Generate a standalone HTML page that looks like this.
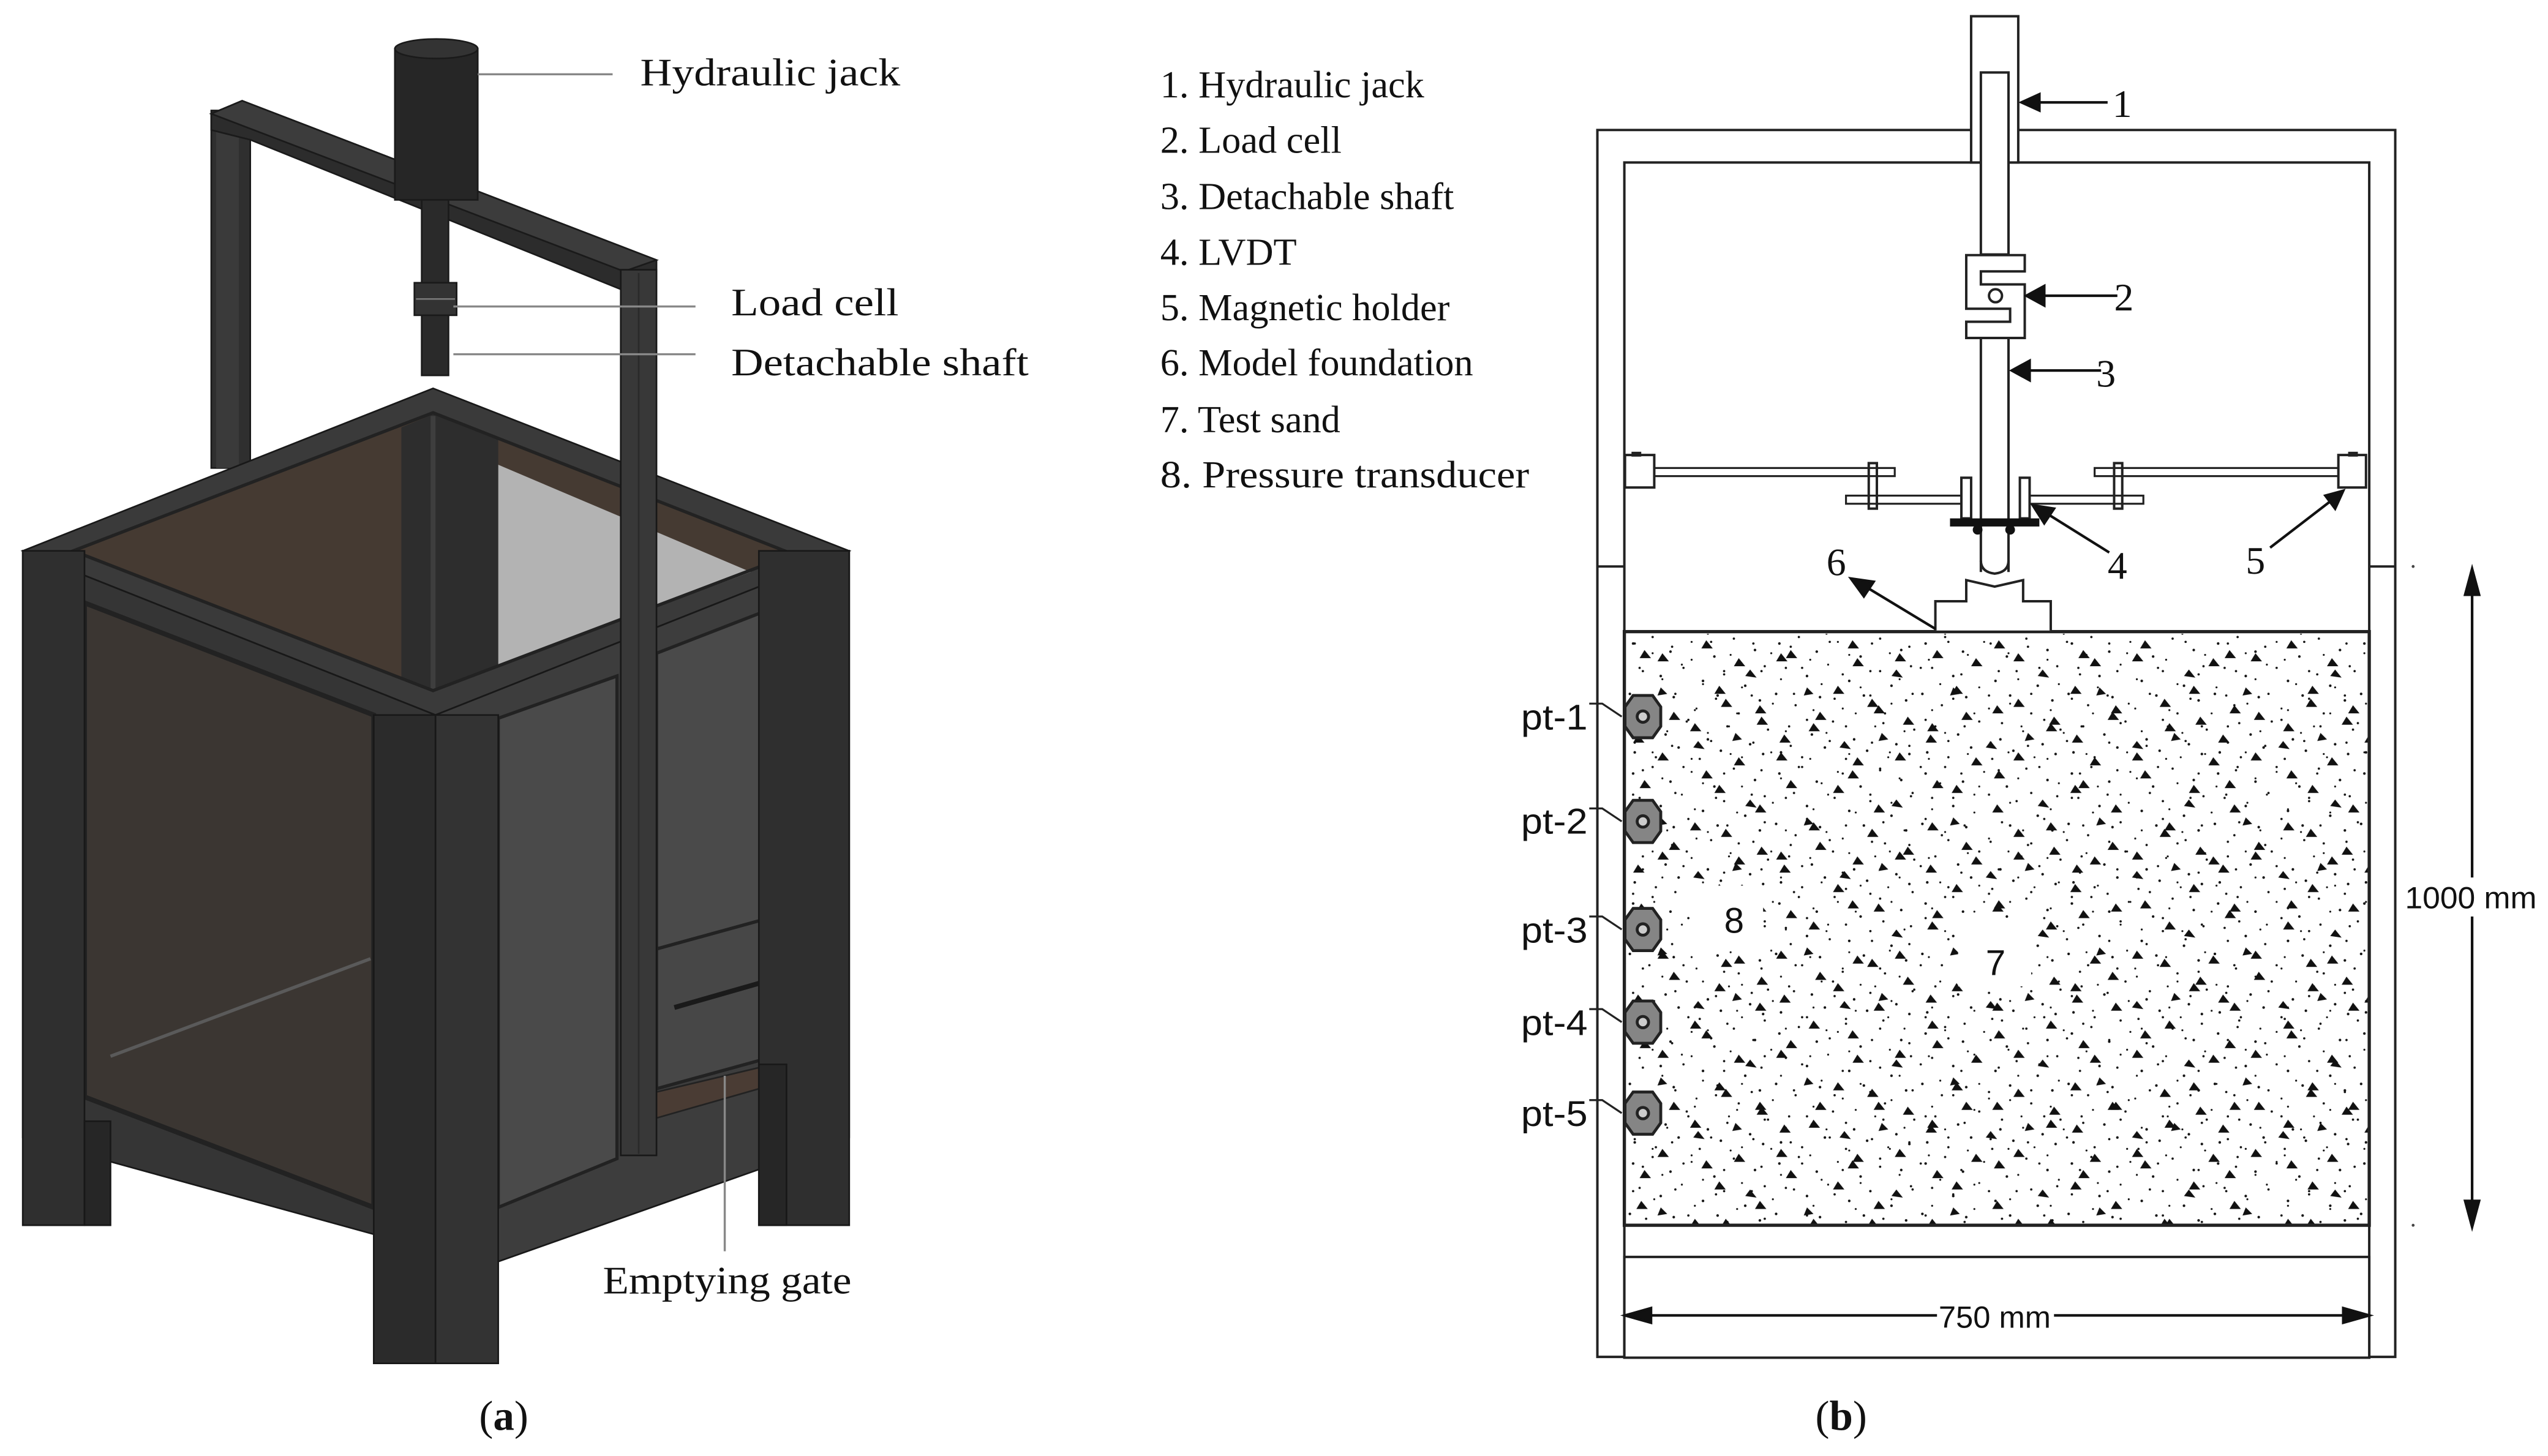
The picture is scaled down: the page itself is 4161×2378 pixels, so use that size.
<!DOCTYPE html>
<html><head><meta charset="utf-8"><style>
html,body{margin:0;padding:0;background:#fff;}
svg{display:block;}
.s{font-family:"Liberation Serif",serif;fill:#111;}
.a{font-family:"Liberation Sans",sans-serif;fill:#111;}
</style></head><body>
<svg width="4161" height="2378" viewBox="0 0 1568 896" preserveAspectRatio="none" xmlns="http://www.w3.org/2000/svg">
<defs>
<pattern id="pA" x="1000" y="389" width="90" height="80" patternUnits="userSpaceOnUse">
<g fill="#111">
<circle cx="5" cy="7" r="0.8"/><circle cx="17" cy="3" r="0.7"/><circle cx="28" cy="12" r="0.8"/><circle cx="41" cy="6" r="0.6"/><circle cx="55" cy="15" r="0.8"/><circle cx="67" cy="4" r="0.7"/><circle cx="80" cy="11" r="0.8"/>
<circle cx="9" cy="22" r="0.7"/><circle cx="22" cy="27" r="0.8"/><circle cx="35" cy="20" r="0.6"/><circle cx="48" cy="30" r="0.8"/><circle cx="61" cy="24" r="0.7"/><circle cx="74" cy="33" r="0.8"/><circle cx="86" cy="21" r="0.7"/>
<circle cx="3" cy="38" r="0.8"/><circle cx="15" cy="45" r="0.7"/><circle cx="30" cy="40" r="0.8"/><circle cx="44" cy="47" r="0.6"/><circle cx="57" cy="39" r="0.8"/><circle cx="70" cy="50" r="0.7"/><circle cx="83" cy="42" r="0.8"/>
<circle cx="11" cy="58" r="0.7"/><circle cx="25" cy="63" r="0.8"/><circle cx="38" cy="55" r="0.7"/><circle cx="51" cy="66" r="0.8"/><circle cx="64" cy="58" r="0.6"/><circle cx="77" cy="69" r="0.8"/><circle cx="88" cy="60" r="0.7"/>
<circle cx="6" cy="74" r="0.8"/><circle cx="19" cy="77" r="0.7"/><circle cx="33" cy="71" r="0.8"/><circle cx="46" cy="78" r="0.7"/><circle cx="59" cy="73" r="0.8"/><circle cx="72" cy="77" r="0.6"/><circle cx="85" cy="75" r="0.8"/>
<polygon points="12,11 16,16 9,16"/><polygon points="50,5 54,10 47,10"/><polygon points="77,23 81,28 74,27"/><polygon points="30,49 34,54 27,54"/><polygon points="62,41 66,46 59,46"/><polygon points="8,63 12,68 5,68"/><polygon points="45,67 49,72 42,71"/><polygon points="84,52 88,57 81,57"/><polygon points="22,34 26,38 20,39"/><polygon points="68,62 72,66 66,67"/>
</g>
</pattern>
<pattern id="pB" x="1003" y="393" width="73" height="61" patternUnits="userSpaceOnUse">
<g fill="#111">
<circle cx="3" cy="3" r="0.7"/><circle cx="14" cy="9" r="0.6"/><circle cx="26" cy="5" r="0.7"/><circle cx="38" cy="13" r="0.6"/><circle cx="50" cy="2" r="0.7"/><circle cx="62" cy="10" r="0.6"/>
<circle cx="8" cy="20" r="0.7"/><circle cx="20" cy="25" r="0.6"/><circle cx="33" cy="18" r="0.7"/><circle cx="45" cy="28" r="0.6"/><circle cx="58" cy="22" r="0.7"/><circle cx="69" cy="30" r="0.6"/>
<circle cx="2" cy="35" r="0.7"/><circle cx="15" cy="40" r="0.6"/><circle cx="28" cy="34" r="0.7"/><circle cx="40" cy="44" r="0.6"/><circle cx="53" cy="37" r="0.7"/><circle cx="66" cy="46" r="0.6"/>
<circle cx="10" cy="52" r="0.7"/><circle cx="23" cy="57" r="0.6"/><circle cx="36" cy="50" r="0.7"/><circle cx="48" cy="58" r="0.6"/><circle cx="60" cy="54" r="0.7"/>
<polygon points="20,9 24,14 17,14"/><polygon points="55,29 59,34 52,34"/><polygon points="7,41 11,46 4,46"/><polygon points="40,52 44,57 37,57"/><polygon points="67,12 71,17 64,17"/>
</g>
</pattern>
</defs>
<rect width="1568" height="896" fill="#fff"/>
<!-- ===== PART A ===== -->
<g stroke="#1a1a1a" stroke-width="1">
<rect x="130" y="68" width="24" height="220" fill="#2f2f2f"/>
<rect x="133" y="70" width="14" height="218" fill="#3a3a3a" stroke="none"/>
<polygon points="130,70 149,62 404,160 404,172 382,178 154,86 130,80" fill="#2c2c2c"/>
<polygon points="130,70 149,62 404,160 384,167" fill="#3c3c3c"/>
<rect x="243" y="30" width="51" height="93" fill="#262626"/>
<ellipse cx="268.5" cy="30" rx="25.5" ry="6" fill="#333"/>
<rect x="259.5" y="123" width="16.5" height="108" fill="#2a2a2a"/>
<rect x="255" y="174" width="26" height="20" fill="#333"/>
<line x1="256" y1="184" x2="280" y2="184" stroke="#777"/>
</g>
<g stroke="#181818" stroke-width="1">
<polygon points="14,339 266.5,239 522.6,339 268,440" fill="#3a3a3a"/>
<polygon points="45,339 266.5,254 488,341 266.5,425" fill="#453a32"/>
<polygon points="306.6,286 462,352 306.6,410" fill="#b3b3b3" stroke="none"/>
<polygon points="247,263 266.5,255 306.6,270 306.6,410 266.5,425 247,418" fill="#2d2d2d" stroke="none"/>
<line x1="266.5" y1="256" x2="266.5" y2="425" stroke="#3e3e3e" stroke-width="3"/>
<polygon points="45,339 266.5,254 488,341 266.5,425" fill="none" stroke="#222" stroke-width="2"/>
<polygon points="14,339 268,440 268,770 14,700" fill="#353535"/>
<polygon points="52,371 230,440 230,743 52,675" fill="#3b3632" stroke="#222" stroke-width="3"/>
<line x1="68" y1="650" x2="228" y2="590" stroke="#5a5a5a" stroke-width="2"/>
<rect x="14" y="339" width="38" height="415" fill="#2f2f2f"/>
<rect x="52" y="690" width="16" height="64" fill="#262626"/>
<polygon points="268,440 522.6,339 522.6,700 268,790" fill="#3d3d3d"/>
<polygon points="306.6,442 379.7,416 379.7,713 306.6,743" fill="#4a4a4a" stroke="#222" stroke-width="2"/>
<polygon points="404,402 484,371 484,562 404,584" fill="#4a4a4a" stroke="#222" stroke-width="2"/>
<polygon points="404,584 484,562 484,648 404,670" fill="#474747" stroke="#222" stroke-width="2"/>
<line x1="415" y1="620" x2="478" y2="602" stroke="#1a1a1a" stroke-width="3"/>
<polygon points="404,672 467,657 467,670 404,688" fill="#4a3c34" stroke="#222"/>
<rect x="467" y="339" width="55.6" height="415" fill="#2f2f2f"/>
<rect x="467" y="655" width="17" height="99" fill="#262626"/>
<polygon points="230,440 268,440 268,839 230,839" fill="#2b2b2b"/>
<polygon points="268,440 306.6,440 306.6,839 268,839" fill="#333"/>
<rect x="382" y="166" width="22" height="545" fill="#383838"/>
<line x1="393" y1="168" x2="393" y2="710" stroke="#2a2a2a"/>
</g>
<g stroke="#888" stroke-width="1.3">
<line x1="294" y1="45.7" x2="377" y2="45.7"/>
<line x1="279" y1="188.6" x2="428" y2="188.6"/>
<line x1="279" y1="218" x2="428" y2="218"/>
<line x1="446" y1="662" x2="446" y2="770"/>
</g>
<text class="s" x="394" y="52.6" font-size="24" textLength="160" lengthAdjust="spacingAndGlyphs">Hydraulic jack</text>
<text class="s" x="450" y="194" font-size="24" textLength="103" lengthAdjust="spacingAndGlyphs">Load cell</text>
<text class="s" x="450" y="231" font-size="24" textLength="183" lengthAdjust="spacingAndGlyphs">Detachable shaft</text>
<text class="s" x="371" y="796" font-size="24" textLength="153" lengthAdjust="spacingAndGlyphs">Emptying gate</text>
<text class="s" x="310" y="880" font-size="26" text-anchor="middle">(<tspan font-weight="bold">a</tspan>)</text>
<!-- ===== PART B legend ===== -->
<g class="s" font-size="23.5">
<text x="714" y="60">1. Hydraulic jack</text>
<text x="714" y="94">2. Load cell</text>
<text x="714" y="128.6">3. Detachable shaft</text>
<text x="714" y="163">4. LVDT</text>
<text x="714" y="197">5. Magnetic holder</text>
<text x="714" y="231">6. Model foundation</text>
<text x="714" y="266">7. Test sand</text>
<text x="714" y="300" textLength="227" lengthAdjust="spacingAndGlyphs">8. Pressure transducer</text>
</g>
<g fill="none" stroke="#222" stroke-width="1.5">
<path d="M983,835 V80 H1474 V835 H1458 V100 H999.6 V835 Z" fill="#fff"/>
<line x1="983" y1="348.6" x2="999.6" y2="348.6"/>
<line x1="1458" y1="348.6" x2="1474" y2="348.6"/>
<rect x="999.6" y="388.7" width="458.4" height="365.3" fill="#fff" stroke-width="2"/>
<rect x="1001" y="390" width="456" height="363" fill="url(#pA)" stroke="none"/>
<rect x="1001" y="390" width="456" height="363" fill="url(#pB)" stroke="none"/>
<rect x="1040" y="545" width="45" height="40" fill="#fff" stroke="none"/>
<rect x="1205" y="565" width="45" height="42" fill="#fff" stroke="none"/>
<rect x="999.6" y="773.5" width="458.4" height="62" fill="#fff"/>
<rect x="1213" y="10" width="29" height="90" fill="#fff"/>
<rect x="1219" y="44.6" width="17" height="112" fill="#fff"/>
<path d="M1210,157 H1246 V167 H1219 V175 H1246 V208 H1210 V198 H1237 V190 H1210 Z" fill="#fff"/>
<circle cx="1228" cy="182" r="4"/>
<line x1="1219" y1="208" x2="1219" y2="352"/>
<line x1="1236" y1="208" x2="1236" y2="352"/>
<path d="M1219,345 Q1219,352 1227.5,353 Q1236,352 1236,345"/>
<rect x="1018" y="288" width="148" height="5" stroke-width="1.2"/>
<rect x="1289" y="288" width="150" height="5" stroke-width="1.2"/>
<rect x="1136" y="305" width="71" height="5" stroke-width="1.2"/>
<rect x="1246" y="305" width="73" height="5" stroke-width="1.2"/>
<rect x="1150" y="285" width="5" height="28" stroke-width="1.5"/>
<rect x="1301" y="285" width="5" height="28" stroke-width="1.5"/>
<rect x="1207" y="294" width="6" height="25" fill="#fff"/>
<rect x="1243" y="294" width="6" height="25" fill="#fff"/>
<rect x="1000" y="280" width="18" height="20" fill="#fff"/>
<rect x="1439" y="280" width="17" height="20" fill="#fff"/>
<path d="M1191,388 V370 H1210 V357 L1227.5,361 L1245,357 V370 H1262 V388" fill="#fff"/>
</g>
<rect x="1200" y="319" width="55" height="5" fill="#111"/>
<circle cx="1217" cy="326" r="3" fill="#111"/><circle cx="1237" cy="326" r="3" fill="#111"/>
<rect x="1004" y="278" width="6" height="3" fill="#222"/><rect x="1445" y="278" width="6" height="3" fill="#222"/>
<!-- transducers -->
<g stroke="#222" stroke-width="1.8">
<polygon points="1022,447 1017,454 1005,454 1000,447 1000,435 1005,428 1017,428 1022,435" fill="#858585"/><circle cx="1011" cy="441" r="3.5" fill="#ccc"/>
<polygon points="1022,511.5 1017,518.5 1005,518.5 1000,511.5 1000,499.5 1005,492.5 1017,492.5 1022,499.5" fill="#858585"/><circle cx="1011" cy="505.5" r="3.5" fill="#ccc"/>
<polygon points="1022,578 1017,585 1005,585 1000,578 1000,566 1005,559 1017,559 1022,566" fill="#858585"/><circle cx="1011" cy="572" r="3.5" fill="#ccc"/>
<polygon points="1022,635 1017,642 1005,642 1000,635 1000,623 1005,616 1017,616 1022,623" fill="#858585"/><circle cx="1011" cy="629" r="3.5" fill="#ccc"/>
<polygon points="1022,691 1017,698 1005,698 1000,691 1000,679 1005,672 1017,672 1022,679" fill="#858585"/><circle cx="1011" cy="685" r="3.5" fill="#ccc"/>
<g fill="none" stroke-width="1.2">
<path d="M978,433 H986 L998,441"/><path d="M978,497.5 H986 L998,505.5"/><path d="M978,564 H986 L998,572"/><path d="M978,621 H986 L998,629"/><path d="M978,677 H986 L998,685"/>
</g>
</g>
<g class="a" font-size="22">
<text x="936" y="449" textLength="41" lengthAdjust="spacingAndGlyphs">pt-1</text>
<text x="936" y="513" textLength="41" lengthAdjust="spacingAndGlyphs">pt-2</text>
<text x="936" y="580" textLength="41" lengthAdjust="spacingAndGlyphs">pt-3</text>
<text x="936" y="637" textLength="41" lengthAdjust="spacingAndGlyphs">pt-4</text>
<text x="936" y="693" textLength="41" lengthAdjust="spacingAndGlyphs">pt-5</text>
<text x="1061" y="574" font-size="22">8</text>
<text x="1222" y="600" font-size="22">7</text>
</g>
<g stroke="#111" stroke-width="1.6" fill="#111">
<line x1="1297" y1="63" x2="1252" y2="63"/><polygon points="1244,63 1255,58 1255,68"/>
<line x1="1303" y1="182" x2="1256" y2="182"/><polygon points="1247,182 1258,176 1258,188"/>
<line x1="1293" y1="228" x2="1246" y2="228"/><polygon points="1238,228 1249,222 1249,234"/>
<line x1="1298" y1="340" x2="1258" y2="315"/><polygon points="1251,311 1264,313 1258,322"/>
<line x1="1397" y1="337" x2="1436" y2="307"/><polygon points="1442,302 1431,305 1437,313"/>
<line x1="1191" y1="387" x2="1148" y2="361"/><polygon points="1139,356 1153,358 1147,367"/>
<line x1="1521.3" y1="360" x2="1521.3" y2="745"/>
<polygon points="1521.3,350 1517,366 1525.6,366"/><polygon points="1521.3,755 1517,739 1525.6,739"/>
<line x1="1012" y1="809.5" x2="1446" y2="809.5"/>
<polygon points="1000,809.5 1016,805 1016,814"/><polygon points="1458,809.5 1442,805 1442,814"/>
</g>
<circle cx="1485" cy="348.6" r="0.9" fill="#444"/><circle cx="1485" cy="754" r="0.9" fill="#444"/>
<rect x="1480" y="540" width="81" height="24" fill="#fff"/>
<rect x="1192" y="798" width="72" height="24" fill="#fff"/>
<text class="a" x="1480" y="559" font-size="19" textLength="81" lengthAdjust="spacingAndGlyphs">1000 mm</text>
<text class="a" x="1193" y="817" font-size="19" textLength="69" lengthAdjust="spacingAndGlyphs">750 mm</text>
<g class="s" font-size="24">
<text x="1300" y="72">1</text>
<text x="1301" y="191">2</text>
<text x="1290" y="238">3</text>
<text x="1297" y="356">4</text>
<text x="1382" y="353">5</text>
<text x="1124" y="354">6</text>
</g>
<text class="s" x="1133" y="880" font-size="26" text-anchor="middle">(<tspan font-weight="bold">b</tspan>)</text>
</svg>
</body></html>
